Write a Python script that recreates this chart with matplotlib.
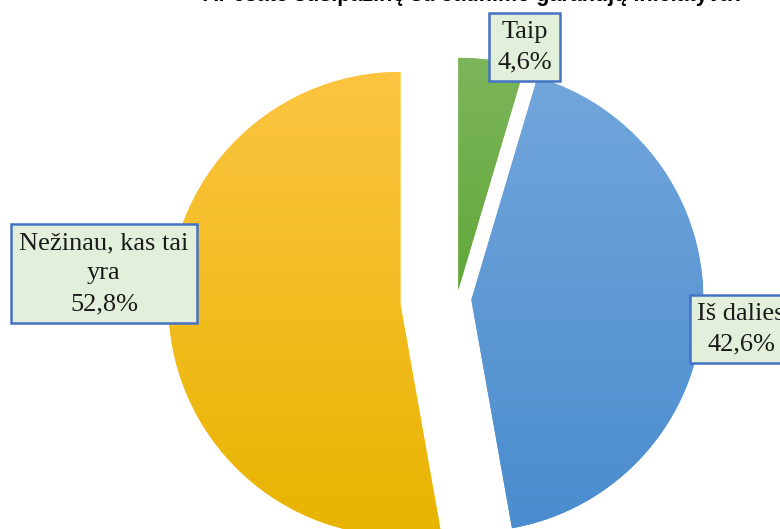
import numpy as np
import matplotlib
matplotlib.use("Agg")
import matplotlib.pyplot as plt
from matplotlib.colors import to_rgb

# duomenys
labels = ["Taip", "Iš dalies", "Nežinau, kas tai\nyra"]
values = [4.6, 42.6, 52.8]
title = "Ar esate susipažinę su Jaunimo garantijų iniciatyva?"

explode = [0.04, 0.062, 0.245]
top_colors = ["#7DB55B", "#72A6DC", "#FDC442"]
bot_colors = ["#62A83A", "#4A8CCE", "#E8B400"]
base_colors = ["#70AD47", "#5B9BD5", "#FFC000"]
# etikečių centrai (duomenų koordinatės, spindulys = 1)
label_pos = [(0.291, 1.086), (1.225, -0.13), (-1.522, 0.11)]

fig = plt.figure(figsize=(7.8, 5.29), dpi=100)
ax = fig.add_axes([0, 0, 1, 1])

wedges, _ = ax.pie(values, explode=explode, colors=base_colors, startangle=90,
                   counterclock=False, radius=1,
                   wedgeprops=dict(linewidth=0))

# gradientas kiekvienam sektoriui
for w, ct, cb in zip(wedges, top_colors, bot_colors):
    ext = w.get_path().get_extents()
    t = np.linspace(0, 1, 256)[:, None]
    grad = (1 - t) * np.array(to_rgb(ct)) + t * np.array(to_rgb(cb))
    img = ax.imshow(grad[:, None, :].repeat(2, axis=1),
                    extent=(ext.x0, ext.x1, ext.y0, ext.y1),
                    origin="upper", interpolation="bilinear", zorder=w.get_zorder())
    img.set_clip_path(w)

for lab, v, (lx, ly) in zip(labels, values, label_pos):
    txt = lab + "\n" + f"{v:.1f}".replace(".", ",") + "%"
    ax.text(lx, ly, txt, ha="center", va="center", fontsize=19,
            family="Liberation Serif", color="#1a1a1a", linespacing=1.5,
            zorder=5,
            bbox=dict(boxstyle="square,pad=0.3", fc="#E2EFDA", ec="#4472C4", lw=1.8))

r_px = 232.0
cx, cy = 457.0, 299.0
ax.set_xlim(-cx / r_px, (780 - cx) / r_px)
ax.set_ylim(-(529 - cy) / r_px, cy / r_px)
ax.set_aspect("auto")
ax.axis("off")

fig.text(0.607, 1 - 1 / 529, title, ha="center", va="baseline", fontsize=15.5,
         fontweight="bold", family="Liberation Sans")

fig.savefig("out.png", dpi=100)
